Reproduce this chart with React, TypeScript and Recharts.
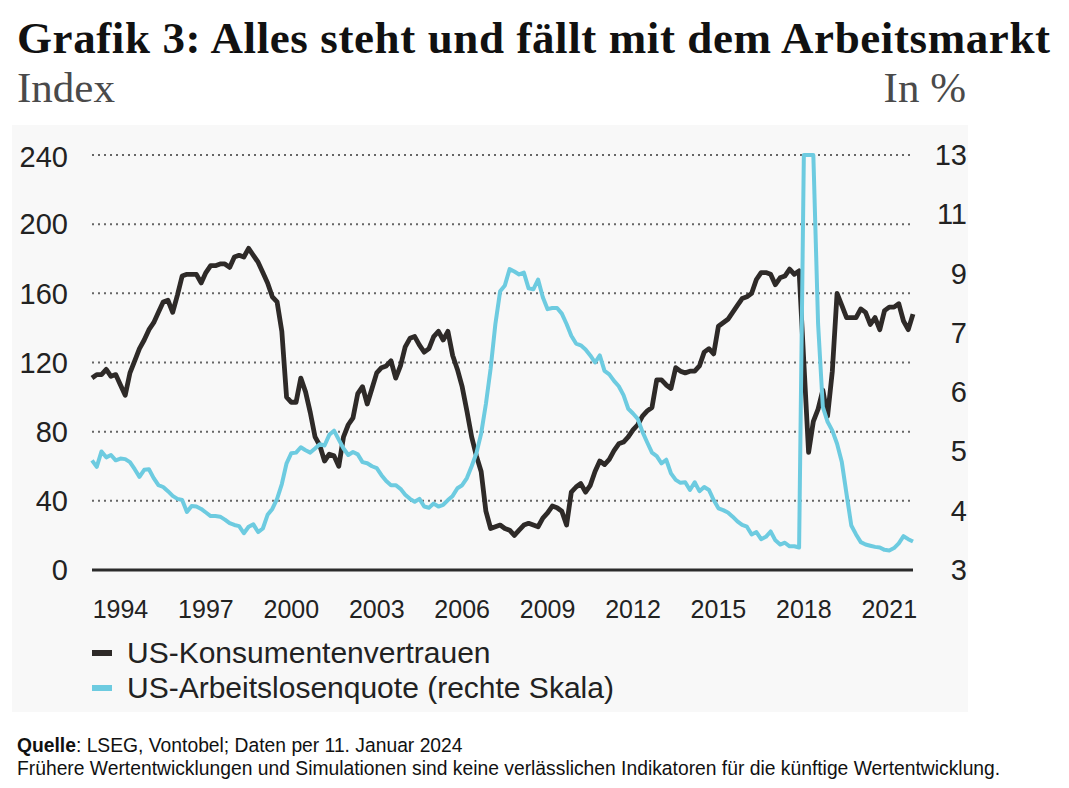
import { LineChart, Line, XAxis, YAxis, CartesianGrid } from 'recharts';

// bimonthly observations, first one in January 1993
const START_YEAR = 1993;
const STEP = 1 / 6;

// US consumer confidence (index, left scale)
const confidence = [
  111, 113, 113, 116, 112, 113, 107, 101, 114, 121,
  128, 133, 139, 143, 149, 155, 156, 149, 159, 170,
  171, 171, 171, 166, 172, 176, 176, 177, 177, 175,
  181, 182, 181, 186, 182, 178, 172, 166, 158, 155,
  138, 100, 97, 97, 111, 103, 91, 77, 72, 63,
  67, 66, 60, 77, 84, 88, 102, 106, 96, 105,
  114, 117, 118, 121, 111, 118, 129, 134, 135, 130,
  126, 128, 135, 138, 133, 138, 124, 116, 106, 92,
  77, 66, 57, 34, 24, 25, 26, 24, 23, 20,
  23, 26, 27, 26, 25, 30, 33, 37, 36, 34,
  26, 45, 48, 50, 45, 49, 57, 63, 61, 64,
  69, 73, 74, 77, 81, 84, 89, 92, 94, 110,
  110, 107, 105, 117, 115, 114, 115, 115, 118, 126,
  128, 125, 141, 143, 145, 149, 153, 157, 158, 160,
  168, 172, 172, 171, 165, 169, 170, 174, 171, 173,
  120, 68, 86, 93, 104, 89, 115, 160, 153, 146,
  146, 146, 151, 149, 142, 146, 139, 150, 152, 152,
  154, 144, 139, 148,
];

// US unemployment rate in % (right scale)
const unemployment = [
  4.85, 4.74, 5.0, 4.9, 4.94, 4.85, 4.88, 4.87, 4.82, 4.7,
  4.57, 4.69, 4.7, 4.55, 4.43, 4.4, 4.33, 4.25, 4.2, 4.18,
  3.98, 4.08, 4.07, 4.03, 3.97, 3.91, 3.91, 3.9, 3.85, 3.79,
  3.76, 3.74, 3.62, 3.73, 3.77, 3.64, 3.7, 3.93, 4.03, 4.2,
  4.45, 4.8, 4.97, 4.98, 5.07, 5.02, 4.98, 5.05, 5.12, 5.1,
  5.28, 5.35, 5.2, 5.05, 4.94, 4.99, 4.95, 4.82, 4.8, 4.75,
  4.72, 4.6, 4.5, 4.43, 4.43, 4.37, 4.27, 4.2, 4.15, 4.2,
  4.07, 4.05, 4.12, 4.07, 4.1, 4.18, 4.25, 4.38, 4.43, 4.55,
  4.75, 4.97, 5.3, 5.8, 6.4, 7.3, 8.4, 8.6, 9.15, 9.07,
  8.97, 9.03, 8.5, 8.47, 8.8, 8.2, 7.8, 7.84, 7.84, 7.65,
  7.3, 6.95, 6.82, 6.79, 6.72, 6.62, 6.5, 6.62, 6.36, 6.3,
  6.19, 6.1, 5.95, 5.72, 5.64, 5.55, 5.33, 5.15, 4.98, 4.92,
  4.8, 4.86, 4.63, 4.52, 4.47, 4.48, 4.35, 4.48, 4.33, 4.4,
  4.35, 4.18, 4.04, 4.01, 3.97, 3.9, 3.82, 3.76, 3.73, 3.6,
  3.64, 3.52, 3.56, 3.65, 3.5, 3.43, 3.46, 3.4, 3.4, 3.38,
  13, 13, 13, 7.3, 5.75, 5.5, 5.35, 5.13, 4.82, 4.28,
  3.75, 3.6, 3.47, 3.43, 3.41, 3.39, 3.38, 3.34, 3.33, 3.37,
  3.45, 3.57, 3.52, 3.48,
];

const yearTicks = [1994, 1997, 2000, 2003, 2006, 2009, 2012, 2015, 2018, 2021];
const indexTicks = [0, 40, 80, 120, 160, 200, 240];
// right scale labels sit at equal spacing, so the scale is piecewise linear
const rateLabels = [3, 4, 5, 6, 7, 9, 11, 13];

const SANS = '"Liberation Sans", Arial, sans-serif';
const SERIF = '"Liberation Serif", "Times New Roman", serif';
const DARK = '#2e2a28';
const BLUE = '#6dcbe0';

// map a rate onto the equally spaced label positions 0..7
function ratePos(u: number) {
  for (let i = 0; i < rateLabels.length - 1; i++) {
    const lo = rateLabels[i];
    const hi = rateLabels[i + 1];
    if (u <= hi || i === rateLabels.length - 2) return i + (u - lo) / (hi - lo);
  }
  return 0;
}

const rows = confidence.map((c, i) => ({
  t: START_YEAR + i * STEP,
  confidence: c,
  rate: ratePos(unemployment[i]),
}));
const lastT = START_YEAR + (confidence.length - 1) * STEP;

function RateTick(props: any) {
  const { x, y, payload } = props;
  return (
    <text x={x + 54} y={y} textAnchor="end" dominantBaseline="central" fontSize={29} fill="#222" fontFamily={SANS}>
      {rateLabels[payload.value]}
    </text>
  );
}

function LegendRow({ color, label, top }: { color: string; label: string; top: number }) {
  return (
    <div style={{ position: 'absolute', left: 92, top, display: 'flex', alignItems: 'center', height: 34 }}>
      <div style={{ width: 20, height: 6, background: color, marginRight: 15 }} />
      <span style={{ fontFamily: SANS, fontSize: 30, color: '#222' }}>{label}</span>
    </div>
  );
}

export default function App() {
  return (
    <div style={{ position: 'absolute', left: 0, top: 0, width: 1069, height: 788, background: '#fff', overflow: 'hidden' }}>
      <div style={{ position: 'absolute', left: 17, top: 16, fontFamily: SERIF, fontWeight: 700, fontSize: 45, letterSpacing: 0.6, lineHeight: 1, color: '#111', whiteSpace: 'nowrap' }}>
        Grafik 3: Alles steht und fällt mit dem Arbeitsmarkt
      </div>
      <div style={{ position: 'absolute', left: 17, top: 66, fontFamily: SERIF, fontSize: 43, lineHeight: 1, color: '#4a4a4a' }}>Index</div>
      <div style={{ position: 'absolute', right: 1069 - 966, top: 66, fontFamily: SERIF, fontSize: 43, lineHeight: 1, color: '#4a4a4a' }}>In %</div>

      <div style={{ position: 'absolute', left: 12, top: 125, width: 956, height: 587, background: '#f8f8f8' }} />

      <div style={{ position: 'absolute', left: 0, top: 140 }}>
        <LineChart width={1069} height={490} data={rows} margin={{ top: 15, right: 0, bottom: 0, left: 0 }}>
          <CartesianGrid yAxisId="left" vertical={false} stroke="#666" strokeWidth={2} strokeDasharray="2 4" />
          <XAxis
            dataKey="t"
            type="number"
            domain={[START_YEAR, lastT]}
            ticks={yearTicks}
            height={60}
            tickLine={false}
            tickSize={0}
            tickMargin={30}
            axisLine={{ stroke: '#2b2b2b', strokeWidth: 3 }}
            tick={{ fontSize: 25, fill: '#222', fontFamily: SANS }}
          />
          <YAxis
            yAxisId="left"
            domain={[0, 240]}
            ticks={indexTicks}
            width={92}
            axisLine={false}
            tickLine={false}
            tickSize={0}
            tickMargin={24}
            tick={{ fontSize: 29, fill: '#222', fontFamily: SANS }}
          />
          <YAxis
            yAxisId="right"
            orientation="right"
            domain={[0, rateLabels.length - 1]}
            ticks={rateLabels.map((_, i) => i)}
            width={156}
            axisLine={false}
            tickLine={false}
            tickSize={0}
            tickMargin={0}
            tick={<RateTick />}
          />
          <Line yAxisId="left" type="linear" dataKey="confidence" stroke={DARK} strokeWidth={4.8} dot={false} strokeLinejoin="round" isAnimationActive={false} />
          <Line yAxisId="right" type="linear" dataKey="rate" stroke={BLUE} strokeWidth={4} dot={false} strokeLinejoin="round" isAnimationActive={false} />
        </LineChart>
      </div>

      <LegendRow color={DARK} label="US-Konsumentenvertrauen" top={636} />
      <LegendRow color={BLUE} label="US-Arbeitslosenquote (rechte Skala)" top={671} />

      <div style={{ position: 'absolute', left: 17, top: 734, fontFamily: SANS, fontSize: 19.3, lineHeight: '23px', color: '#111' }}>
        <div><b>Quelle</b>: LSEG, Vontobel; Daten per 11. Januar 2024</div>
        <div>Frühere Wertentwicklungen und Simulationen sind keine verlässlichen Indikatoren für die künftige Wertentwicklung.</div>
      </div>
    </div>
  );
}
